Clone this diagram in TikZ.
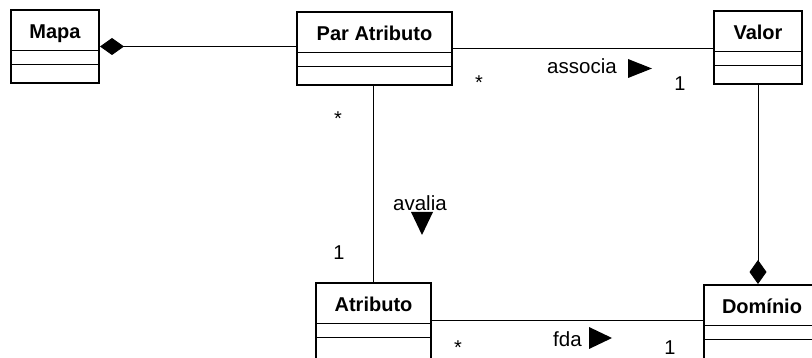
\documentclass[tikz,border=0pt]{standalone}
\usepackage{fontspec}
\setmainfont{Liberation Sans}
\usetikzlibrary{arrows.meta,calc}

\tikzset{
  classbox/.style={draw, line width=2.4pt, outer sep=1.2pt, inner sep=0pt,
    anchor=north west},
  classtitle/.style={anchor=base, inner sep=0pt,
    font=\fontsize{20}{23}\selectfont\bfseries},
  divider/.style={line width=1pt},
  assoc/.style={line width=0.9pt},
  lbl/.style={anchor=base west, inner sep=0pt, font=\fontsize{20.5}{23}\selectfont},
  mult/.style={anchor=base, inner sep=0pt, font=\fontsize{20}{23}\selectfont},
  composite/.tip={Diamond[length=24pt, width=17pt]},
}

% UML class: name, left, top, outer width, outer height, title
\newcommand\umlclass[6]{%
  \node[classbox, minimum width=#4pt-2.4pt, minimum height=#5pt-2.4pt] (#1) at (#2,#3) {};
  \node[classtitle] (#1-title) at ([yshift=-30pt]#1.north) {#6};
  \draw[divider] ([yshift=-42pt]#1.north west) -- ([yshift=-42pt]#1.north east);
  \draw[divider] ([yshift=-56pt]#1.north west) -- ([yshift=-56pt]#1.north east);
}

\begin{document}
\begin{tikzpicture}[x=1pt, y=-1pt]
\useasboundingbox (0,0) rectangle (812,358);
\clip (0,0) rectangle (812,358);

% classes
\umlclass{mapa}{10}{9}{90}{75}{Mapa}
\umlclass{par}{296}{11}{157}{75}{Par Atributo}
\umlclass{valor}{713}{10}{90}{75}{Valor}
\umlclass{atributo}{315}{282}{117}{80}{Atributo}
\umlclass{dominio}{703}{284}{118}{80}{Domínio}

% associations
\draw[assoc, composite-] (mapa.east) -- (par.west |- mapa.east);
\draw[assoc] (par.east) -- (valor.west |- par.east);
\draw[assoc] (par.south -| atributo.north) -- (atributo.north);
\draw[assoc, -composite] (valor.south) -- (dominio.north -| valor.south);
\draw[assoc] ([yshift=-38.5pt]atributo.north east) -- ([yshift=-38.5pt]atributo.north east -| dominio.west);

% association names with reading direction
\node[lbl] (l-associa) at (547,74) {associa};
\fill (628,59) -- (628,78) -- (652,68.5) -- cycle;
\node[lbl] (l-avalia) at (393,211) {avalia};
\fill (411,212) -- (433,212) -- (422,235) -- cycle;
\node[lbl] (l-fda) at (553,347) {fda};
\fill (589,327) -- (589,349) -- (612,338) -- cycle;

% multiplicities
\node[mult] (m1) at (479,90) {*};
\node[mult] (m2) at (680,91) {1};
\node[mult] (m3) at (338,126) {*};
\node[mult] (m4) at (339,260) {1};
\node[mult] (m5) at (458,355) {*};
\node[mult] (m6) at (670,355) {1};
\end{tikzpicture}
\end{document}
